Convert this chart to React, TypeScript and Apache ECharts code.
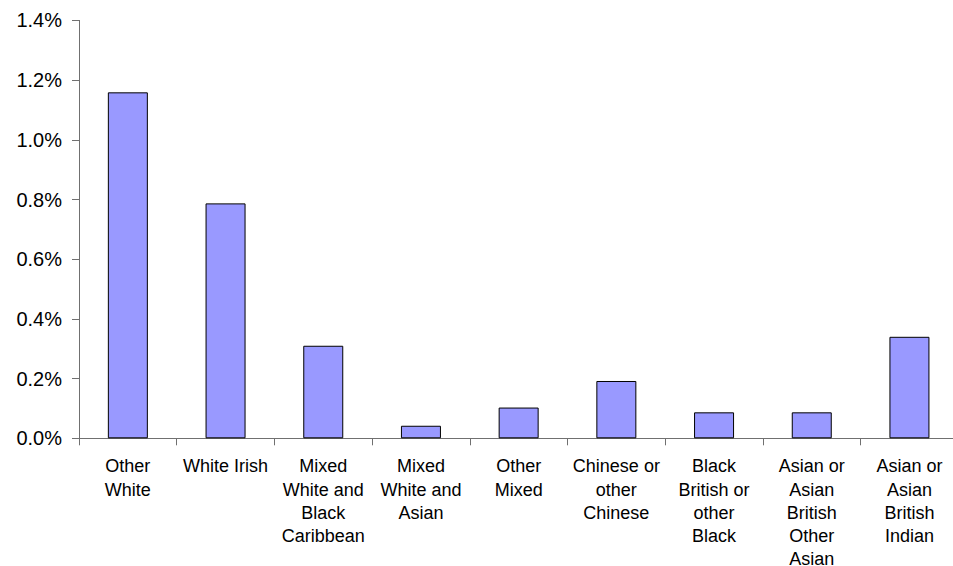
import React, { useEffect, useRef } from "react";
import * as echarts from "echarts";

const categories: string[] = [
  "Other\nWhite",
  "White Irish",
  "Mixed\nWhite and\nBlack\nCaribbean",
  "Mixed\nWhite and\nAsian",
  "Other\nMixed",
  "Chinese or\nother\nChinese",
  "Black\nBritish or\nother\nBlack",
  "Asian or\nAsian\nBritish\nOther\nAsian",
  "Asian or\nAsian\nBritish\nIndian",
];

const values: number[] = [1.159, 0.787, 0.31, 0.042, 0.103, 0.192, 0.087, 0.087, 0.34];

const yMin = 0;
const yMax = 1.4;
const yStep = 0.2;

export default function App() {
  const ref = useRef<HTMLDivElement>(null);
  useEffect(() => {
    if (!ref.current) return;
    const chart = echarts.init(ref.current, undefined, { renderer: "svg" });
    const axisColor = "#707070";
    chart.setOption({
      animation: false,
      backgroundColor: "#ffffff",
      grid: {
        left: 79,
        top: 20.4,
        width: 879.3,
        height: 417.9,
        containLabel: false,
        outerBoundsMode: "none",
      },
      xAxis: {
        type: "category",
        data: categories,
        axisLine: { lineStyle: { color: axisColor, width: 1 } },
        axisTick: { show: true, length: 7, alignWithLabel: false, lineStyle: { color: axisColor } },
        axisLabel: {
          interval: 0,
          color: "#000",
          fontFamily: "Liberation Sans, Arial, sans-serif",
          fontSize: 18,
          lineHeight: 23.2,
          margin: 16.5,
        },
      },
      yAxis: {
        type: "value",
        min: yMin,
        max: yMax,
        interval: yStep,
        splitLine: { show: false },
        axisLine: { show: true, lineStyle: { color: axisColor, width: 1 } },
        axisTick: { show: true, length: 7, lineStyle: { color: axisColor } },
        axisLabel: {
          color: "#000",
          fontFamily: "Liberation Sans, Arial, sans-serif",
          fontSize: 20,
          margin: 17,
          formatter: (v: number) => `${v.toFixed(1)}%`,
        },
      },
      series: [
        {
          type: "bar",
          data: values,
          barWidth: 40,
          itemStyle: { color: "#9999FF", borderColor: "#000000", borderWidth: 1 },
        },
      ],
    });
    return () => chart.dispose();
  }, []);
  return (
    <div
      ref={ref}
      style={{ position: "fixed", left: 0, top: 0, width: 953, height: 566, background: "#fff" }}
    />
  );
}
